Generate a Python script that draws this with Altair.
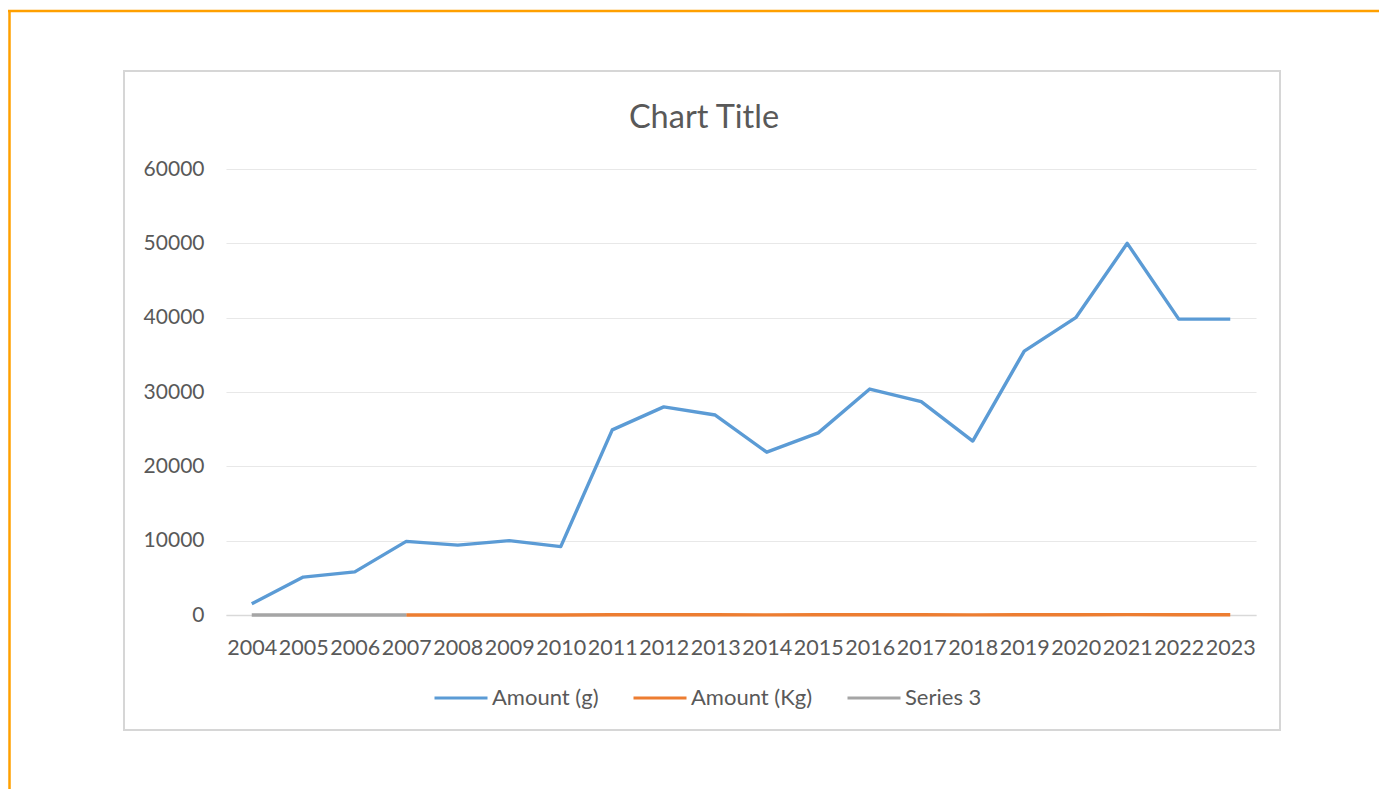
import altair as alt
import pandas as pd

years = [str(y) for y in range(2004, 2024)]
amount_g = [1500, 5100, 5800, 9900, 9400, 10000, 9200, 24900, 28000, 26900,
            21900, 24500, 30400, 28700, 23400, 35500, 40000, 50000, 39800, 39800]
kg_years = [str(y) for y in range(2007, 2024)]
amount_kg = [9.9, 9.4, 10.0, 9.2, 24.9, 28.0, 26.9, 21.9, 24.5, 30.4,
             28.7, 23.4, 35.5, 40.0, 50.0, 39.8, 39.8]
s3_years = ["2004", "2005", "2006", "2007"]
series3 = [0, 0, 0, 0]
series_names = ["Amount (g)", "Amount (Kg)", "Series 3"]
series_colors = ["#5B9BD5", "#ED7D31", "#A5A5A5"]
y_ticks = [0, 10000, 20000, 30000, 40000, 50000, 60000]
chart_title = "Chart Title"

rows = []
for y, v in zip(years, amount_g):
    rows.append({"Year": y, "Value": v, "Series": series_names[0]})
for y, v in zip(kg_years, amount_kg):
    rows.append({"Year": y, "Value": v, "Series": series_names[1]})
for y, v in zip(s3_years, series3):
    rows.append({"Year": y, "Value": v, "Series": series_names[2]})
df = pd.DataFrame(rows)

FONT = "Lato"
TXT = "#595959"
W, H = 1030, 446
one = pd.DataFrame({"a": [0]})

# decorative frames (page frame and chart-area box)
chart_box = alt.Chart(one).mark_rect(
    fillOpacity=0, stroke="#d6d6d6", strokeWidth=2
).encode(x=alt.value(-102), x2=alt.value(1054), y=alt.value(-98), y2=alt.value(561))

frame_left = alt.Chart(one).mark_rule(color="#FFA000", strokeWidth=2.5).encode(
    x=alt.value(-216.5), y=alt.value(-159), y2=alt.value(640))
frame_top = alt.Chart(one).mark_rule(color="#FFA000", strokeWidth=2.5).encode(
    x=alt.value(-218), x2=alt.value(1160), y=alt.value(-158))

title_mark = alt.Chart(pd.DataFrame({"t": [chart_title]})).mark_text(
    font=FONT, fontSize=32.5, color=TXT, align="center", baseline="middle"
).encode(text="t:N", x=alt.value(478), y=alt.value(-51))

lines = alt.Chart(df).mark_line(strokeWidth=3.4, strokeCap="butt", strokeJoin="round").encode(
    x=alt.X("Year:O", sort=years,
            scale=alt.Scale(domain=years, padding=0.5),
            axis=alt.Axis(title=None, labelAngle=0, ticks=False, tickSize=0,
                          labelPadding=22, labelFontSize=21.5, labelFont=FONT,
                          labelColor=TXT, domainColor="#d9d9d9", domainWidth=1.5,
                          grid=False)),
    y=alt.Y("Value:Q",
            scale=alt.Scale(domain=[0, 60000], nice=False),
            axis=alt.Axis(title=None, values=y_ticks, format="d", ticks=False,
                          tickSize=0, domain=False, labelPadding=22,
                          labelFontSize=21, labelFont=FONT, labelColor=TXT,
                          gridColor="#e8e8e8", gridWidth=1.2)),
    color=alt.Color("Series:N",
                    scale=alt.Scale(domain=series_names, range=series_colors),
                    legend=alt.Legend(orient="none", legendX=207, legendY=501,
                                      direction="horizontal", title=None,
                                      symbolType="stroke", symbolSize=2809,
                                      symbolStrokeWidth=3, labelFontSize=22,
                                      labelFont=FONT, labelColor=TXT,
                                      labelOffset=3, columnPadding=28)),
    order=alt.Order("Year:O"),
)

chart = alt.layer(frame_left, frame_top, chart_box, title_mark, lines).properties(
    width=W, height=H,
    autosize=alt.AutoSizeParams(type="none"),
    padding={"left": 218, "top": 161, "right": 123, "bottom": 174},
    background="white",
).configure_view(stroke=None)

chart.save("out.html", embed_options={"renderer": "svg", "actions": False})
